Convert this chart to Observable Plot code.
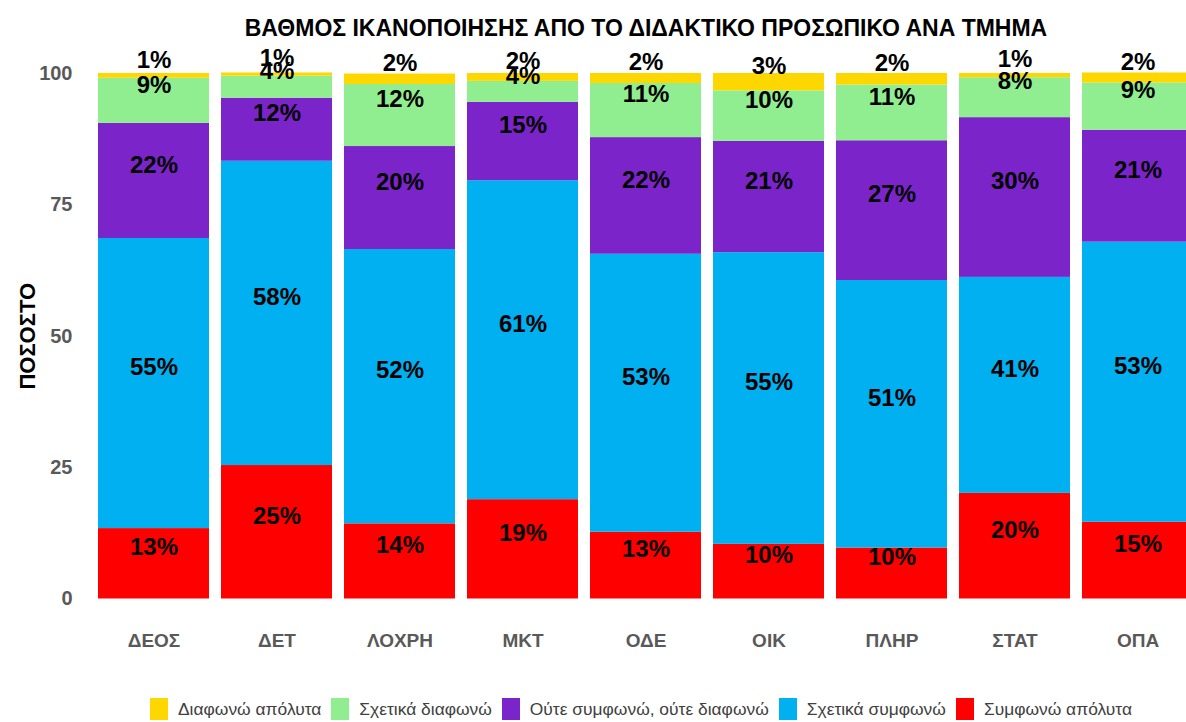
<!DOCTYPE html>
<html>
<head>
<meta charset="utf-8">
<script src="https://cdn.jsdelivr.net/npm/d3@7"></script>
<script src="https://cdn.jsdelivr.net/npm/@observablehq/plot@0.6"></script>
<style>
  html, body { margin: 0; padding: 0; background: #fff; }
  body { width: 1186px; height: 722px; overflow: hidden; font-family: "Liberation Sans", Arial, sans-serif; }
  #title { height: 45px; line-height: 56px; text-align: center; font-weight: bold; font-size: 23px; color: #000; transform: translateX(53px); white-space: nowrap; }
  #chart svg { display: block; overflow: hidden; }
  #chart svg g[aria-label^="x-axis"] text { font-size: 19px; font-weight: bold; fill: #595959; }
  #chart svg g[aria-label^="y-axis"] text { font-size: 20px; font-weight: bold; fill: #595959; }
  #legend { display: flex; align-items: center; margin-top: 28px; padding-left: 150px; height: 22px; font-size: 17.4px; color: #404040; white-space: nowrap; }
  #legend .item { display: flex; align-items: center; margin-right: 10px; }
  #legend .sw { width: 18px; height: 22px; margin-right: 10px; }
</style>
</head>
<body>
<div id="title">ΒΑΘΜΟΣ ΙΚΑΝΟΠΟΙΗΣΗΣ ΑΠΟ ΤΟ ΔΙΔΑΚΤΙΚΟ ΠΡΟΣΩΠΙΚΟ ΑΝΑ ΤΜΗΜΑ</div>
<div id="chart"></div>
<div id="legend"></div>
<script>
const categories = ["ΔΕΟΣ", "ΔΕΤ", "ΛΟΧΡΗ", "ΜΚΤ", "ΟΔΕ", "ΟΙΚ", "ΠΛΗΡ", "ΣΤΑΤ", "ΟΠΑ"];
// stacking order, bottom to top
const series = ["Συμφωνώ απόλυτα", "Σχετικά συμφωνώ", "Ούτε συμφωνώ, ούτε διαφωνώ", "Σχετικά διαφωνώ", "Διαφωνώ απόλυτα"];
const seriesColors = ["#FF0000", "#00B0F0", "#7B24C9", "#90EE90", "#FFD700"];
const legendOrder = ["Διαφωνώ απόλυτα", "Σχετικά διαφωνώ", "Ούτε συμφωνώ, ούτε διαφωνώ", "Σχετικά συμφωνώ", "Συμφωνώ απόλυτα"];

const agreeFully       = [13.4, 25.4, 14.3, 18.9, 12.7, 10.4,  9.7, 20.1, 14.6];
const agreeSomewhat    = [55.2, 57.9, 52.2, 60.7, 52.9, 55.5, 50.9, 41.1, 53.3];
const neutral          = [21.9, 12.0, 19.6, 14.9, 22.2, 21.2, 26.6, 30.4, 21.3];
const disagreeSomewhat = [ 8.6,  4.2, 11.8,  4.0, 10.3,  9.6, 10.6,  7.6,  9.0];
const disagreeFully    = [ 0.9,  0.6,  2.0,  1.5,  1.9,  3.3,  2.2,  0.8,  1.9];

const labelAgreeFully       = [13, 25, 14, 19, 13, 10, 10, 20, 15];
const labelAgreeSomewhat    = [55, 58, 52, 61, 53, 55, 51, 41, 53];
const labelNeutral          = [22, 12, 20, 15, 22, 21, 27, 30, 21];
const labelDisagreeSomewhat = [ 9,  4, 12,  4, 11, 10, 11,  8,  9];
const labelDisagreeFully    = [ 1,  1,  2,  2,  2,  3,  2,  1,  2];

const yTicks = [0, 25, 50, 75, 100];

const valueArrays = [agreeFully, agreeSomewhat, neutral, disagreeSomewhat, disagreeFully];
const labelArrays = [labelAgreeFully, labelAgreeSomewhat, labelNeutral, labelDisagreeSomewhat, labelDisagreeFully];

const rows = [];
categories.forEach((c, i) => {
  series.forEach((s, j) => {
    rows.push({category: c, series: s, value: valueArrays[j][i], label: labelArrays[j][i] + "%"});
  });
});

const chart = Plot.plot({
  width: 1186,
  height: 625,
  marginTop: 28,
  marginBottom: 71.5,
  marginLeft: 86,
  marginRight: 0,
  style: {fontFamily: "'Liberation Sans', Arial, sans-serif", background: "#fff"},
  x: {domain: categories, range: [85.7, 1205], padding: 0.1, label: null, tickSize: 0, tickPadding: 34},
  y: {domain: [0, 100], ticks: yTicks, label: null, tickSize: 0, tickPadding: 14},
  color: {domain: series, range: seriesColors},
  marks: [
    Plot.barY(rows, {x: "category", y: "value", fill: "series"}),
    Plot.text(rows, Plot.stackY({x: "category", y: "value", text: "label", dy: -16, fontSize: 24, fontWeight: "bold", fill: "#000"})),
    Plot.text(["ΠΟΣΟΣΤΟ"], {text: d => d, frameAnchor: "left", textAnchor: "middle", rotate: -90, dx: -59, fontSize: 22, fontWeight: "bold", fill: "#000"})
  ]
});
document.getElementById("chart").appendChild(chart);

const legend = document.getElementById("legend");
legendOrder.forEach(name => {
  const item = document.createElement("div");
  item.className = "item";
  const sw = document.createElement("div");
  sw.className = "sw";
  sw.style.background = seriesColors[series.indexOf(name)];
  const t = document.createElement("span");
  t.textContent = name;
  item.appendChild(sw);
  item.appendChild(t);
  legend.appendChild(item);
});
</script>
</body>
</html>
